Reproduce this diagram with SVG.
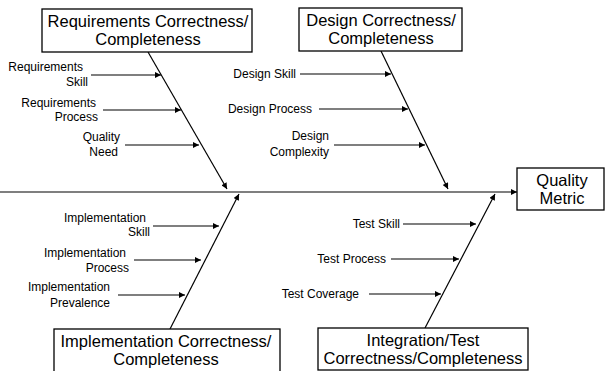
<svg xmlns="http://www.w3.org/2000/svg" width="607" height="371" viewBox="0 0 607 371">
<defs>
<marker id="ah" viewBox="0 0 10 10" refX="10" refY="5" markerWidth="7" markerHeight="6" orient="auto" markerUnits="userSpaceOnUse">
<path d="M0,0 L10,5 L0,10 z" fill="#000"/>
</marker>
</defs>
<style>
.box{fill:#fff;stroke:#000;stroke-width:1.3}
.bt{font-family:"Liberation Sans",Arial,sans-serif;font-size:16.5px;text-anchor:middle;fill:#000}
.lb{font-family:"Liberation Sans",Arial,sans-serif;font-size:12px;fill:#000}
.r{text-anchor:end}
.ln{stroke:#000;stroke-width:1.2;fill:none;marker-end:url(#ah)}
</style>
<rect width="607" height="371" fill="#fff"/>
<g id="connectors">
<line class="ln" x1="0" y1="192" x2="517" y2="192"/>
<line class="ln" x1="148" y1="52" x2="227" y2="189"/>
<line class="ln" x1="381" y1="51" x2="448" y2="189"/>
<line class="ln" x1="170" y1="329" x2="239" y2="194"/>
<line class="ln" x1="425" y1="328" x2="495" y2="194"/>
<line class="ln" x1="91" y1="75" x2="161" y2="75"/>
<line class="ln" x1="103" y1="110" x2="181" y2="110"/>
<line class="ln" x1="125" y1="145" x2="199" y2="145"/>
<line class="ln" x1="300" y1="74" x2="391" y2="74"/>
<line class="ln" x1="319" y1="109" x2="408" y2="109"/>
<line class="ln" x1="334" y1="145" x2="425" y2="145"/>
<line class="ln" x1="153" y1="226" x2="219" y2="226"/>
<line class="ln" x1="134" y1="260" x2="201" y2="260"/>
<line class="ln" x1="118" y1="295" x2="185" y2="295"/>
<line class="ln" x1="403" y1="224" x2="476" y2="224"/>
<line class="ln" x1="391" y1="259" x2="459" y2="259"/>
<line class="ln" x1="369" y1="294" x2="441" y2="294"/>
</g>
<g id="req">
<rect class="box" x="42" y="9" width="210" height="43"/>
<text class="bt" x="148" y="27">Requirements Correctness/</text>
<text class="bt" x="148" y="45">Completeness</text>
</g>
<g id="design">
<rect class="box" x="299" y="8" width="163" height="43"/>
<text class="bt" x="381" y="26">Design Correctness/</text>
<text class="bt" x="381" y="44">Completeness</text>
</g>
<g id="quality">
<rect class="box" x="517" y="168" width="87" height="42"/>
<text class="bt" x="562" y="186">Quality</text>
<text class="bt" x="562" y="204">Metric</text>
</g>
<g id="impl">
<rect class="box" x="54" y="329" width="226" height="45"/>
<text class="bt" x="166" y="347">Implementation Correctness/</text>
<text class="bt" x="166" y="365">Completeness</text>
</g>
<g id="test">
<rect class="box" x="318" y="328" width="210" height="42"/>
<text class="bt" x="423" y="346">Integration/Test</text>
<text class="bt" x="423" y="364">Correctness/Completeness</text>
</g>
<g id="req-skill"><text class="lb r" x="83" y="71">Requirements</text><text class="lb r" x="88" y="86">Skill</text></g>
<g id="req-process"><text class="lb r" x="96" y="107">Requirements</text><text class="lb r" x="98" y="121">Process</text></g>
<g id="quality-need"><text class="lb r" x="120" y="141">Quality</text><text class="lb r" x="118" y="156">Need</text></g>
<g id="design-skill"><text class="lb r" x="296" y="78">Design Skill</text></g>
<g id="design-process"><text class="lb r" x="312" y="113">Design Process</text></g>
<g id="design-complexity"><text class="lb r" x="329" y="140">Design</text><text class="lb r" x="329" y="156">Complexity</text></g>
<g id="impl-skill"><text class="lb r" x="146" y="222">Implementation</text><text class="lb r" x="150" y="236">Skill</text></g>
<g id="impl-process"><text class="lb r" x="126" y="257">Implementation</text><text class="lb r" x="129" y="272">Process</text></g>
<g id="impl-prev"><text class="lb r" x="110" y="291">Implementation</text><text class="lb r" x="110" y="307">Prevalence</text></g>
<g id="test-skill"><text class="lb r" x="400" y="228">Test Skill</text></g>
<g id="test-process"><text class="lb r" x="386" y="263">Test Process</text></g>
<g id="test-coverage"><text class="lb r" x="359" y="298">Test Coverage</text></g>
</svg>
